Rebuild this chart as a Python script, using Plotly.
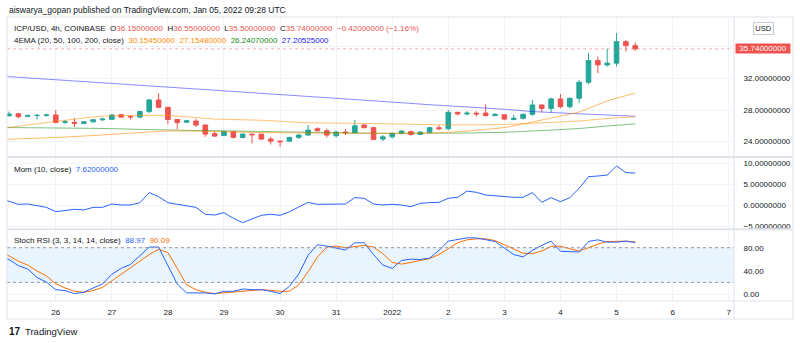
import plotly.graph_objects as go
from plotly.subplots import make_subplots
import pandas as pd

# ---------------- data ----------------
candle_start = "2021-12-25 04:00"
opens = [27.28, 27.53, 27.20, 27.30, 27.33, 27.37, 26.45, 26.45, 26.30, 26.50,
         26.76, 26.82, 27.40, 27.20, 27.10, 27.80, 29.27, 28.34, 26.80, 26.45,
         26.60, 26.10, 25.00, 24.78, 25.25, 24.53, 24.95, 24.95, 24.32, 24.06,
         24.06, 24.53, 24.83, 25.63, 25.37, 24.74, 25.20, 25.12, 26.10, 25.76,
         24.32, 24.60, 25.04, 25.25, 24.91, 25.17, 25.76, 25.63, 27.70, 27.50,
         27.60, 27.62, 27.30, 27.40, 26.80, 26.95, 27.45, 28.63, 28.20, 29.40,
         28.42, 29.48, 31.51, 34.26, 33.71, 33.93, 36.65, 36.15]
highs = [27.79, 27.58, 27.45, 27.52, 27.50, 28.00, 26.75, 26.95, 26.60, 26.85,
         27.05, 27.45, 27.50, 27.25, 27.90, 29.40, 30.10, 28.35, 26.80, 26.75,
         26.85, 26.20, 25.33, 25.37, 25.37, 25.04, 25.00, 24.95, 24.60, 24.19,
         24.60, 24.95, 26.10, 25.80, 25.67, 25.37, 25.58, 26.73, 26.18, 25.88,
         24.83, 25.12, 25.46, 25.42, 25.33, 25.88, 26.10, 28.00, 27.80, 27.85,
         27.85, 28.70, 27.60, 27.45, 27.40, 27.55, 29.27, 28.70, 29.57, 30.03,
         29.57, 31.81, 35.20, 34.77, 35.75, 37.75, 36.85, 36.55]
lows = [27.15, 26.94, 27.10, 26.80, 27.15, 26.30, 26.20, 25.85, 26.20, 26.45,
        26.60, 26.78, 27.00, 26.80, 26.95, 27.60, 28.20, 26.20, 25.55, 26.35,
        25.85, 24.60, 24.57, 24.70, 24.40, 24.40, 23.77, 24.19, 23.64, 23.35,
        23.98, 24.32, 24.74, 25.29, 24.49, 24.53, 24.83, 25.04, 25.67, 24.19,
        24.06, 24.40, 24.91, 24.74, 24.83, 25.04, 25.46, 25.42, 27.30, 27.30,
        27.15, 27.15, 27.20, 26.70, 26.70, 26.80, 27.28, 27.70, 27.70, 28.20,
        28.20, 28.89, 31.26, 32.66, 33.50, 33.50, 35.40, 35.50]
closes = [27.49, 27.15, 27.26, 27.32, 27.37, 26.43, 26.50, 26.30, 26.50, 26.77,
          26.85, 27.37, 27.10, 27.13, 27.80, 29.27, 28.34, 26.80, 26.40, 26.65,
          26.10, 24.95, 24.70, 25.29, 24.53, 24.95, 24.87, 24.32, 24.06, 23.98,
          24.53, 24.83, 25.46, 25.37, 24.83, 25.20, 25.12, 26.00, 25.76, 24.28,
          24.60, 25.04, 25.33, 24.91, 25.20, 25.76, 25.63, 27.70, 27.50, 27.60,
          27.50, 27.30, 27.45, 26.85, 26.95, 27.45, 28.63, 28.20, 29.40, 28.42,
          29.48, 31.51, 34.26, 33.71, 33.93, 36.65, 36.16, 35.74]

# EMA lines (candle index -> value)
ema20_idx = [-1, 0, 5, 10, 17, 22, 27, 32, 37, 42, 45, 47, 49, 53, 56, 58, 61, 64, 67]
ema20_val = [24.25, 24.30, 24.52, 24.84, 25.34, 25.28, 25.15, 25.09, 25.05, 25.05,
             25.09, 25.18, 25.34, 25.78, 26.48, 26.99, 27.75, 29.14, 30.15]
ema50_idx = [-1, 0, 5, 10, 17, 22, 27, 32, 37, 42, 47, 53, 56, 61, 64, 67]
ema50_val = [25.70, 25.80, 26.55, 27.22, 27.30, 26.86, 26.70, 26.39, 26.32, 26.22,
             26.12, 26.16, 26.32, 26.61, 26.92, 27.15]
ema100_idx = [-1, 0, 10, 17, 27, 37, 42, 49, 53, 56, 61, 64, 67]
ema100_val = [25.80, 25.78, 25.66, 25.47, 25.28, 25.09, 25.05, 25.09, 25.18, 25.34,
              25.66, 25.97, 26.24]
ema200_idx = [-1, 0, 14, 28, 42, 45, 53, 56, 61, 64, 67]
ema200_val = [32.30, 32.22, 31.13, 30.03, 28.92, 28.67, 28.09, 27.81, 27.52, 27.37, 27.20]

# indicators, candle index -1 .. 67
ind_start = "2021-12-25 00:00"
mom = [1.60, 0.79, 0.16, 0.24, -0.24, -0.56, -1.59, -1.35, -1.03, -1.19, -0.56,
       -0.56, 0.24, 0.00, 0.00, 0.56, 2.94, 1.98, 0.56, 0.16, -0.16,
       -0.56, -2.22, -2.38, -1.83, -3.17, -4.20, -3.41, -2.46, -2.22, -2.46,
       -1.59, -0.40, 0.63, 0.16, 0.24, 0.24, 0.24, 1.75, 1.59, 0.24,
       0.00, 0.16, 0.00, -0.40, 0.40, 0.56, 0.63, 1.59, 1.83, 3.33,
       3.02, 2.38, 2.14, 2.06, 1.83, 1.83, 2.94, 0.63, 1.75, 0.79,
       1.75, 3.97, 6.75, 6.90, 7.14, 9.29, 7.70, 7.62]
stoch_k = [66.0, 59.6, 48.9, 43.2, 28.5, 20.6, 7.5, 5.9, 0.7, 3.0, 10.4,
           17.2, 34.1, 44.3, 51.1, 65.3, 81.1, 81.1, 50.0, 17.2, 1.9,
           1.9, 1.9, 0.2, 4.7, 4.7, 8.7, 7.5, 7.5, 4.7, 0.7,
           13.2, 34.7, 67.0, 85.1, 82.8, 80.0, 76.0, 88.5, 88.5, 68.1,
           50.0, 44.3, 58.0, 60.2, 59.6, 61.9, 75.5, 91.3, 93.6, 97.0,
           97.0, 94.1, 90.7, 79.4, 68.1, 64.1, 75.5, 84.0, 91.3, 73.8,
           73.2, 72.6, 90.7, 93.6, 89.6, 89.6, 91.3, 88.97]
stoch_d = [72.6, 65.8, 56.8, 50.0, 39.8, 31.3, 17.7, 10.4, 4.7, 3.0, 5.9,
           11.5, 22.8, 34.1, 45.5, 56.8, 68.1, 77.2, 71.5, 44.3, 16.0,
           7.5, 3.0, 0.7, 1.9, 3.0, 4.7, 6.4, 7.5, 6.4, 4.7,
           4.7, 16.0, 38.7, 64.1, 81.1, 82.8, 80.0, 82.3, 84.0, 81.1,
           69.8, 54.5, 51.7, 54.5, 58.5, 61.3, 68.1, 77.7, 88.5, 93.6,
           95.3, 95.3, 92.4, 85.1, 77.2, 70.4, 69.8, 74.3, 82.3, 82.8,
           78.3, 74.3, 80.0, 86.2, 90.7, 91.3, 91.3, 90.09]

day_ticks = ["2021-12-26", "2021-12-27", "2021-12-28", "2021-12-29", "2021-12-30",
             "2021-12-31", "2022-01-01", "2022-01-02", "2022-01-03", "2022-01-04",
             "2022-01-05", "2022-01-06", "2022-01-07"]
day_labels = ["26", "27", "28", "29", "30", "31", "2022", "2", "3", "4", "5", "6", "7"]

price_ticks = [24, 28, 32, 36]
price_labels = ["24.00000000", "28.00000000", "32.00000000", ""]
mom_ticks = [-5, 0, 5, 10]
mom_labels = ["\u22125.00000000", "0.00000000", "5.00000000", "10.00000000"]
stoch_ticks = [0, 40, 80]
stoch_labels = ["0.00", "40.00", "80.00"]
last_price = 35.74

# ---------------- helpers ----------------
W, H = 800, 343
L, R, T, B = 7, 734, 17, 301
t0 = pd.Timestamp(candle_start)
candle_x = pd.date_range(candle_start, periods=len(opens), freq="4h")
ind_x = pd.date_range(ind_start, periods=len(mom), freq="4h")


def idx_time(idxs):
    return [t0 + pd.Timedelta(hours=4 * i) for i in idxs]


def px(x):
    return (x - L) / (R - L)


def py(y):
    return (B - y) / (B - T)


UP, DOWN = "#26a69a", "#ef5350"
TXT = "#131722"
GRID = "#f0f3fa"
FRAME = "#e0e3eb"
FONT = "Liberation Sans"

fig = make_subplots(rows=3, cols=1, shared_xaxes=True, vertical_spacing=0)

# EMAs (behind candles)
for idxs, vals, col in [(ema200_idx, ema200_val, "rgba(40,40,255,0.55)"),
                        (ema100_idx, ema100_val, "rgba(0,128,0,0.5)"),
                        (ema50_idx, ema50_val, "rgba(255,140,0,0.55)"),
                        (ema20_idx, ema20_val, "rgba(255,140,0,0.6)")]:
    fig.add_trace(go.Scatter(x=idx_time(idxs), y=vals, mode="lines",
                             line=dict(color=col, width=1, shape="spline", smoothing=0.6),
                             hoverinfo="skip", showlegend=False), row=1, col=1)

fig.add_trace(go.Candlestick(
    x=candle_x, open=opens, high=highs, low=lows, close=closes,
    increasing=dict(line=dict(color=UP, width=1), fillcolor=UP),
    decreasing=dict(line=dict(color=DOWN, width=1), fillcolor=DOWN),
    whiskerwidth=0, showlegend=False, hoverinfo="skip"), row=1, col=1)

fig.add_trace(go.Scatter(x=ind_x, y=mom, mode="lines",
                         line=dict(color="#2962ff", width=1), hoverinfo="skip",
                         showlegend=False), row=2, col=1)
fig.add_trace(go.Scatter(x=ind_x, y=stoch_d, mode="lines",
                         line=dict(color="#ff6d00", width=1), hoverinfo="skip",
                         showlegend=False), row=3, col=1)
fig.add_trace(go.Scatter(x=ind_x, y=stoch_k, mode="lines",
                         line=dict(color="#2962ff", width=1), hoverinfo="skip",
                         showlegend=False), row=3, col=1)

xrange = ["2021-12-25 03:08", "2022-01-07 02:16"]
for i in (1, 2, 3):
    fig.update_xaxes(row=i, col=1, type="date", range=xrange, tickvals=day_ticks,
                     ticktext=day_labels, showgrid=True, gridcolor=GRID, gridwidth=1,
                     zeroline=False, showline=False, ticks="outside", ticklen=3,
                     tickcolor="rgba(0,0,0,0)", tickfont=dict(size=8, color=TXT, family=FONT),
                     rangeslider=dict(visible=False), fixedrange=True)

axis_common = dict(side="right", showgrid=True, gridcolor=GRID, gridwidth=1, zeroline=False,
                   showline=False, ticks="outside", ticklen=7, tickcolor="rgba(0,0,0,0)",
                   tickfont=dict(size=8, color=TXT, family=FONT), fixedrange=True)
fig.update_yaxes(row=1, col=1, range=[22.051, 39.772], tickvals=price_ticks,
                 ticktext=price_labels, domain=[py(157), 1.0], **axis_common)
fig.update_yaxes(row=2, col=1, range=[-5.786, 11.43], tickvals=mom_ticks,
                 ticktext=mom_labels, domain=[py(229.3), py(157)], **axis_common)
fig.update_yaxes(row=3, col=1, range=[-12.09, 111.8], tickvals=stoch_ticks,
                 ticktext=stoch_labels, domain=[0.0, py(229.3)], **axis_common)

shapes = []
# stoch band and levels
shapes.append(dict(type="rect", xref="x3 domain", yref="y3", x0=0, x1=1, y0=20, y1=80,
                   fillcolor="rgba(33,150,243,0.10)", line=dict(width=0), layer="below"))
for lvl in (80, 20):
    shapes.append(dict(type="line", xref="x3 domain", yref="y3", x0=0, x1=1, y0=lvl, y1=lvl,
                       line=dict(color="#9598a1", width=1, dash="dot")))
# last price line
shapes.append(dict(type="line", xref="x domain", yref="y", x0=0, x1=1, y0=last_price,
                   y1=last_price, line=dict(color="rgba(239,83,80,0.45)", width=1, dash="dot")))
# frame and separators
XR = px(793)
YB = py(319)
for y in (17, 157, 229.3, 301, 319):
    shapes.append(dict(type="line", xref="paper", yref="paper", x0=0, x1=XR, y0=py(y), y1=py(y),
                       line=dict(color=FRAME, width=1 if y in (17, 301, 319) else 2)))
for x in (7, 734, 793):
    shapes.append(dict(type="line", xref="paper", yref="paper", x0=px(x), x1=px(x), y0=YB, y1=1,
                       line=dict(color=FRAME, width=1)))

ann = []


def text(x, y, s, size=8, color=TXT, anchor="left", **kw):
    ann.append(dict(x=px(x), y=py(y), xref="paper", yref="paper", text=s, showarrow=False,
                    xanchor=anchor, yanchor="middle", font=dict(size=size, color=color, family=FONT),
                    **kw))


sp = "\u00a0\u00a0"
red = lambda s: f'<span style="color:#ef5350">{s}</span>'
text(7, 9.5, "aiswarya_gopan published on TradingView.com, Jan 05, 2022 09:28 UTC", size=8.5)
text(12, 28.3, "ICP/USD, 4h, COINBASE" + sp + "O" + red("36.15000000") + sp + "H" + red("36.55000000")
     + sp + "L" + red("35.50000000") + sp + "C" + red("35.74000000") + sp
     + red("\u22120.42000000 (\u22121.16%)"))
text(12, 40.7, "4EMA (20, 50, 100, 200, close)" + sp
     + '<span style="color:#ff8c00">30.15450000</span>' + sp
     + '<span style="color:#ff8c00">27.15480000</span>' + sp
     + '<span style="color:#138a13">26.24070000</span>' + sp
     + '<span style="color:#1a1aff">27.20525000</span>')
text(12, 169, "Mom (10, close)" + sp + '<span style="color:#2962ff">7.62000000</span>')
text(12, 240, "Stoch RSI (3, 3, 14, 14, close)" + sp + '<span style="color:#2962ff">88.97</span>'
     + sp + '<span style="color:#ff6d00">90.09</span>')
# price label and USD box
ann.append(dict(x=px(735), y=last_price, xref="paper", yref="y", text="35.74000000", showarrow=False,
                xanchor="left", yanchor="middle", font=dict(size=8, color="white", family=FONT),
                bgcolor="#ef5350", width=54, height=9, borderpad=0))
text(763.5, 28.5, "USD", size=7.5, anchor="center", bordercolor="#c8cbd3", borderwidth=1,
     borderpad=1, width=17, height=9)
# footer logo
text(7, 331, "<b>17</b>", size=10)
text(22.5, 331, "TradingView", size=9.5)

fig.update_layout(width=W, height=H, margin=dict(l=L, r=W - R, t=T, b=H - B),
                  paper_bgcolor="white", plot_bgcolor="white", shapes=shapes, annotations=ann,
                  font=dict(family=FONT, size=8, color=TXT), showlegend=False)
fig.write_html("out.html")
